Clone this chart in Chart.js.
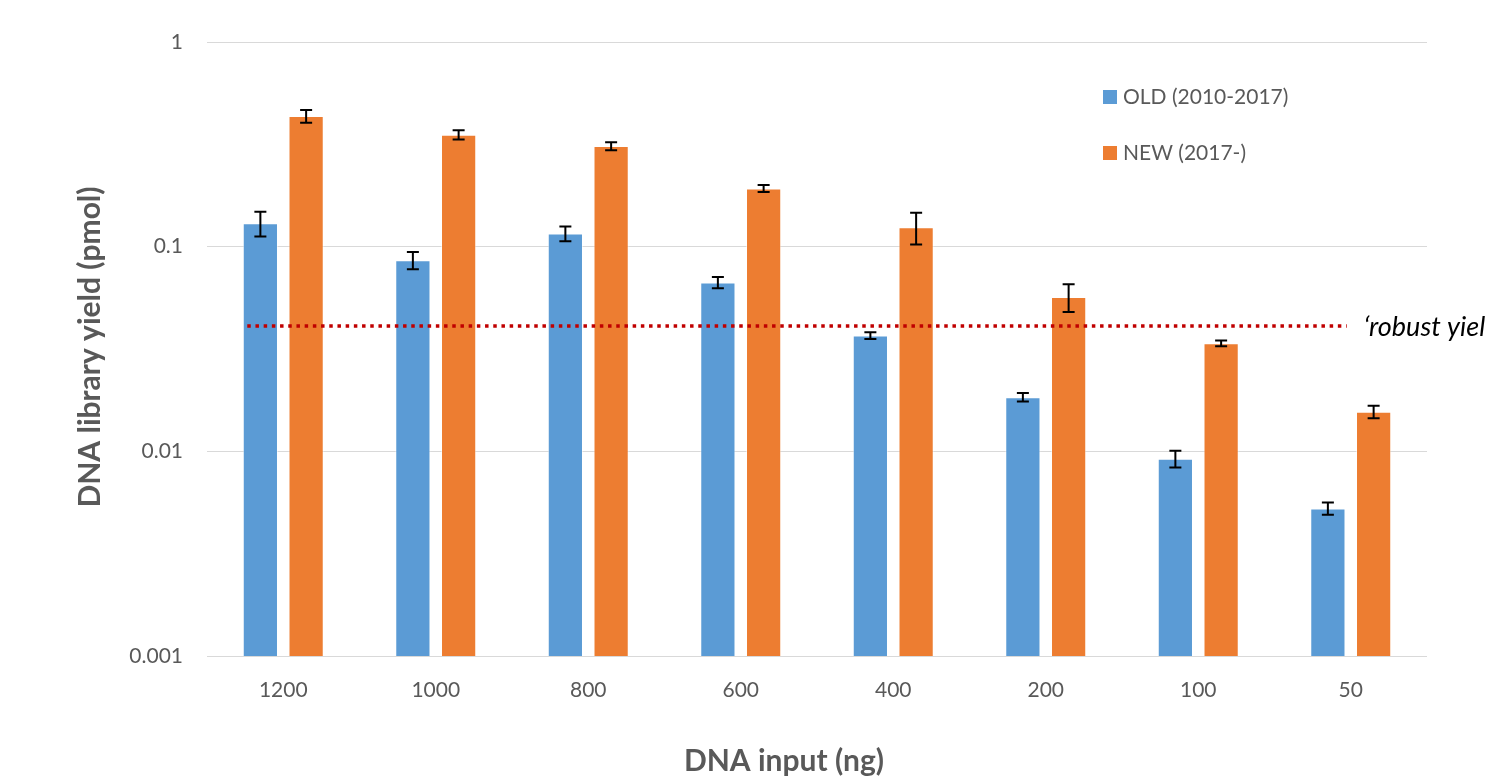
<!DOCTYPE html>
<html>
<head>
<meta charset="utf-8">
<script src="https://cdn.jsdelivr.net/npm/chart.js@4"></script>
<style>
  html, body { margin: 0; padding: 0; background: #fff; }
  canvas { display: block; }
</style>
</head>
<body>
<canvas id="yield-chart" width="1485" height="782"></canvas>
<script>
var inputs = ['1200', '1000', '800', '600', '400', '200', '100', '50'];
var oldYield = [0.130, 0.0859, 0.116, 0.0668, 0.0368, 0.0184, 0.0092, 0.00526];
var oldErr = [0.018, 0.0084, 0.0096, 0.0042, 0.0014, 0.0009, 0.00087, 0.00036];
var newYield = [0.4345, 0.352, 0.310, 0.1926, 0.1245, 0.0568, 0.0337, 0.0156];
var newErr = [0.031, 0.018, 0.014, 0.0076, 0.022, 0.0088, 0.0011, 0.0011];
var yTicks = [0.001, 0.01, 0.1, 1];
var robustYield = 0.041;

var FONT = 'Lato, "Open Sans", sans-serif';
var GREY = '#595959';

var extras = {
  id: 'extras',
  afterDatasetsDraw: function(chart) {
    var ctx = chart.ctx;
    var y = chart.scales.y, x = chart.scales.x;
    var errs = [oldErr, newErr];

    // error bars
    ctx.save();
    ctx.strokeStyle = '#000';
    ctx.lineWidth = 2;
    chart.data.datasets.forEach(function(ds, di) {
      chart.getDatasetMeta(di).data.forEach(function(bar, i) {
        var v = ds.data[i], e = errs[di][i];
        var top = y.getPixelForValue(v + e), bot = y.getPixelForValue(v - e);
        ctx.beginPath();
        ctx.moveTo(bar.x, top); ctx.lineTo(bar.x, bot);
        ctx.moveTo(bar.x - 6, top); ctx.lineTo(bar.x + 6, top);
        ctx.moveTo(bar.x - 6, bot); ctx.lineTo(bar.x + 6, bot);
        ctx.stroke();
      });
    });
    ctx.restore();

    // robust yield threshold
    var ry = y.getPixelForValue(robustYield);
    var x0 = x.getPixelForValue(0) - 36, x1 = x.getPixelForValue(inputs.length - 1) - 4;
    ctx.save();
    ctx.strokeStyle = '#C00000';
    ctx.lineWidth = 3.5;
    ctx.setLineDash([3.5, 4.7]);
    ctx.beginPath();
    ctx.moveTo(x0, ry); ctx.lineTo(x1, ry);
    ctx.stroke();
    ctx.setLineDash([]);
    ctx.fillStyle = '#000';
    ctx.font = 'italic 27px ' + FONT;
    ctx.textBaseline = 'middle';
    ctx.fillText('\u2018robust yield\u2019', x1 + 17, ry + 1);
    ctx.restore();

    // legend
    ctx.save();
    ctx.font = '21px ' + FONT;
    ctx.textBaseline = 'middle';
    chart.data.datasets.forEach(function(ds, di) {
      var ly = 97 + di * 56;
      ctx.fillStyle = ds.backgroundColor;
      ctx.fillRect(1103, ly - 7, 14, 14);
      ctx.fillStyle = GREY;
      ctx.fillText(ds.label, 1123, ly);
    });
    ctx.restore();

    // axis titles
    ctx.save();
    ctx.fillStyle = GREY;
    ctx.font = 'bold 30px ' + FONT;
    ctx.textAlign = 'center';
    ctx.textBaseline = 'middle';
    ctx.fillText('DNA input (ng)', 784, 761);
    ctx.translate(90, 347);
    ctx.rotate(-Math.PI / 2);
    ctx.fillText('DNA library yield (pmol)', 0, 0);
    ctx.restore();
  }
};

new Chart(document.getElementById('yield-chart').getContext('2d'), {
  type: 'bar',
  data: {
    labels: inputs,
    datasets: [
      { label: 'OLD (2010-2017)', data: oldYield, backgroundColor: '#5B9BD5',
        borderColor: 'rgba(255,255,255,0.5)', borderWidth: 1 },
      { label: 'NEW (2017-)', data: newYield, backgroundColor: '#ED7D31',
        borderColor: 'rgba(255,255,255,0.5)', borderWidth: 1 }
    ]
  },
  options: {
    responsive: false,
    animation: false,
    categoryPercentage: 0.6,
    barPercentage: 0.77,
    layout: { padding: { top: 42, right: 58, left: 0, bottom: 0 } },
    plugins: { legend: { display: false }, tooltip: { enabled: false } },
    scales: {
      x: {
        grid: { display: false, drawTicks: false },
        border: { display: false },
        ticks: { color: GREY, font: { family: FONT, size: 21 }, padding: 22 },
        afterFit: function(s) { s.height = 126; }
      },
      y: {
        type: 'logarithmic',
        min: 0.001, max: 1,
        afterBuildTicks: function(s) { s.ticks = yTicks.map(function(v) { return { value: v }; }); },
        grid: { color: '#d9d9d9', lineWidth: 1, drawTicks: false },
        border: { display: false },
        ticks: {
          color: GREY, font: { family: FONT, size: 21 }, padding: 24,
          callback: function(v) { return String(v); }
        },
        afterFit: function(s) { s.width = 207; }
      }
    }
  },
  plugins: [extras]
});
</script>
</body>
</html>
